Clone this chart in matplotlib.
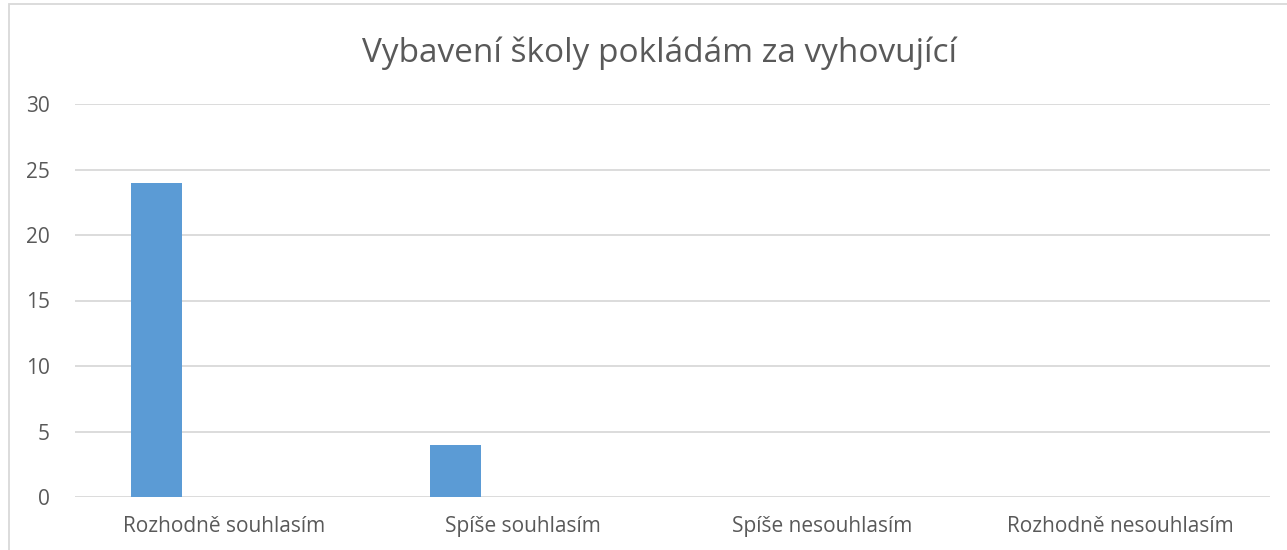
import matplotlib
matplotlib.use("Agg")
import matplotlib.pyplot as plt
from matplotlib.patches import Rectangle

categories = ["Rozhodně souhlasím", "Spíše souhlasím", "Spíše nesouhlasím", "Rozhodně nesouhlasím"]
values = [24, 4, 0, 0]
yticks = [0, 5, 10, 15, 20, 25, 30]
title = "Vybavení školy pokládám za vyhovující"

W, H = 1287, 550
fig = plt.figure(figsize=(W / 100, H / 100), dpi=100)
plt.rcParams['font.family'] = ['Open Sans', 'DejaVu Sans']
txt = "#595959"

ax = fig.add_axes([75 / W, (H - 497) / H, (1270 - 75) / W, (497 - 104) / H])
xs = list(range(len(categories)))
offset = -0.227
bw = 0.171
ax.bar([x + offset for x in xs], values, width=bw, color="#5B9BD5", zorder=3)
ax.set_xlim(-0.5, len(categories) - 0.5)
ax.set_ylim(0, 30)
ax.set_yticks(yticks)
ax.set_yticklabels([str(v) for v in yticks])
ax.set_xticks(xs)
ax.set_xticklabels(categories)
ax.grid(axis="y", color="#D9D9D9", linewidth=1.3, zorder=0)
for s in ax.spines.values():
    s.set_visible(False)
ax.tick_params(axis="both", length=0, colors=txt, labelsize=15)
ax.tick_params(axis="y", pad=18)
ax.tick_params(axis="x", pad=14)

fig.text(660 / W, 1 - 53 / H, title, ha="center", va="center", fontsize=24, color=txt)

fig.patches.append(Rectangle((9 / W, -0.1), 1.2, 1 - 4 / H + 0.1, transform=fig.transFigure,
                             fill=False, edgecolor="#D9D9D9", linewidth=1.3))

fig.savefig("out.png", dpi=100)
